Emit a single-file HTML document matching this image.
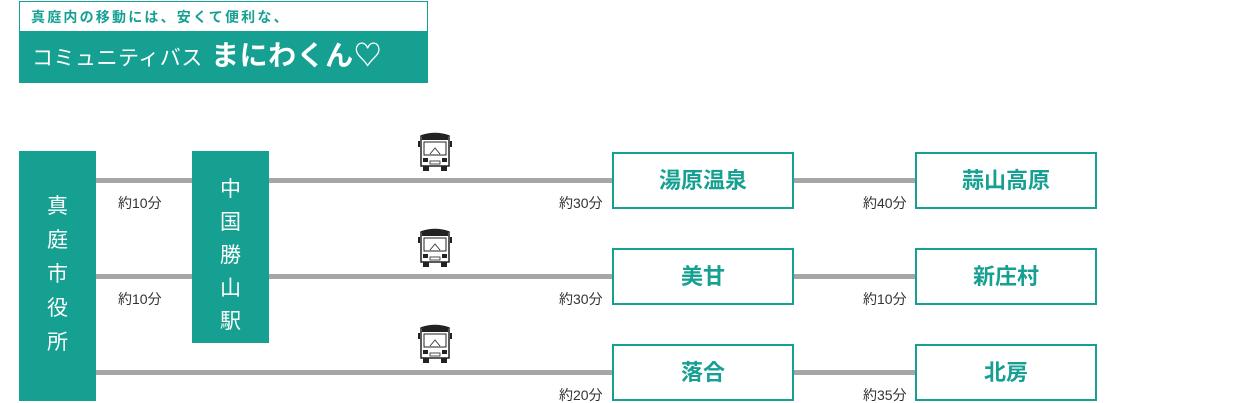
<!DOCTYPE html>
<html><head><meta charset="utf-8"><style>
body{margin:0;width:1240px;height:403px;background:#fff;position:relative;overflow:hidden;font-family:"Liberation Sans","Noto Sans CJK JP",sans-serif}
.a{position:absolute}
.ln{position:absolute;height:5px;background:#a6a6a6}
.tl{position:absolute;background:#16a092;color:#fff;font-size:21px;text-align:center}
.tl span{position:absolute;left:0;width:100%;line-height:24px}
.box{position:absolute;width:178px;height:53px;border:2px solid #16a092;color:#16a092;font-size:22px;font-weight:bold;text-align:center;line-height:53px;box-sizing:content-box}
.lb{position:absolute;font-size:14px;color:#333;line-height:16px}
</style></head><body>
<div class="a" style="left:19px;top:1px;width:407px;height:80px;border:1px solid #16a092;"></div>
<div class="a" style="left:19px;top:31px;width:409px;height:51px;background:#16a092"></div>
<div class="a" style="left:31px;top:8px;font-size:14px;color:#16a092;font-weight:bold;letter-spacing:2.2px;line-height:18px">真庭内の移動には、安くて便利な、</div>
<div class="a" style="left:32px;top:41px;font-size:21px;color:#fff;line-height:30px;letter-spacing:0.5px">コミュニティバス <b style="font-size:28px;margin-left:2px">まにわくん♡</b></div>

<div class="ln" style="left:96px;top:178px;width:96px"></div>
<div class="ln" style="left:96px;top:274px;width:96px"></div>
<div class="ln" style="left:96px;top:370px;width:516px"></div>
<div class="ln" style="left:269px;top:178px;width:343px"></div>
<div class="ln" style="left:269px;top:274px;width:343px"></div>
<div class="ln" style="left:793px;top:178px;width:122px"></div>
<div class="ln" style="left:793px;top:274px;width:122px"></div>
<div class="ln" style="left:793px;top:370px;width:122px"></div>

<div class="tl" style="left:19px;top:151px;width:77px;height:250px">
<span style="top:44px">真</span><span style="top:78px">庭</span><span style="top:112px">市</span><span style="top:146px">役</span><span style="top:180px">所</span></div>
<div class="tl" style="left:192px;top:151px;width:77px;height:192px">
<span style="top:27px">中</span><span style="top:60px">国</span><span style="top:93px">勝</span><span style="top:126px">山</span><span style="top:159px">駅</span></div>

<div class="lb" style="left:118px;top:195px">約10分</div>
<div class="lb" style="left:118px;top:291px">約10分</div>
<div class="lb" style="left:559px;top:195px">約30分</div>
<div class="lb" style="left:559px;top:291px">約30分</div>
<div class="lb" style="left:559px;top:387px">約20分</div>
<div class="lb" style="left:863px;top:195px">約40分</div>
<div class="lb" style="left:863px;top:291px">約10分</div>
<div class="lb" style="left:863px;top:387px">約35分</div>

<div class="box" style="left:612px;top:152px">湯原温泉</div>
<div class="box" style="left:612px;top:248px">美甘</div>
<div class="box" style="left:612px;top:344px">落合</div>
<div class="box" style="left:915px;top:152px">蒜山高原</div>
<div class="box" style="left:915px;top:248px">新庄村</div>
<div class="box" style="left:915px;top:344px">北房</div>

<svg class="a" style="left:0;top:0" width="1240" height="403">
<defs><g id="bus">
<path d="M6 4 Q20 -1 34 4 L34 34 L6 34 Z" fill="#fff" stroke="#222" stroke-width="1.5"/>
<path d="M7 4 Q20 -1 33 4 L33 8 L7 8 Z" fill="#222"/>
<rect x="9" y="10" width="22" height="13" fill="#fff" stroke="#222" stroke-width="1"/>
<path d="M15 22 L20 16 L25 22" fill="none" stroke="#222" stroke-width="0.8"/>
<rect x="3" y="9" width="2" height="6" fill="#222"/><rect x="35" y="9" width="2" height="6" fill="#222"/>
<rect x="8" y="26" width="5" height="4" fill="#222"/><rect x="27" y="26" width="5" height="4" fill="#222"/>
<rect x="15" y="29" width="10" height="3" fill="none" stroke="#222" stroke-width="0.8"/>
<rect x="8" y="34" width="6" height="5" fill="#222"/><rect x="26" y="34" width="6" height="5" fill="#222"/>
</g></defs>
<use href="#bus" x="415" y="132"/>
<use href="#bus" x="415" y="228"/>
<use href="#bus" x="415" y="324"/>
</svg>
</body></html>
